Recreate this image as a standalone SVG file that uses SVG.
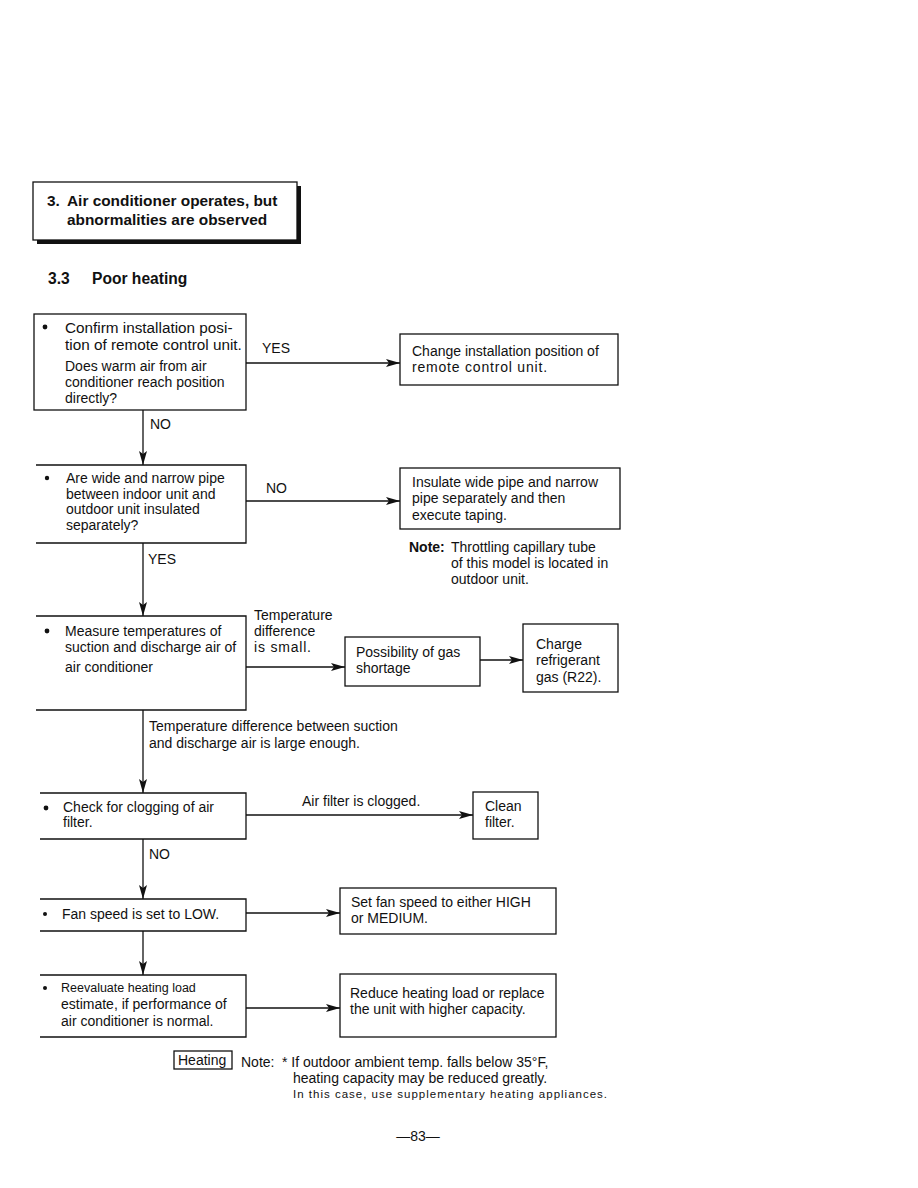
<svg xmlns="http://www.w3.org/2000/svg" width="918" height="1188" viewBox="0 0 918 1188">
<style>
text{font-family:"Liberation Sans",Arial,sans-serif;fill:#111;font-size:14px}
.b{font-weight:bold}
.h{font-size:15.4px;font-weight:bold}
.t{font-size:15.6px;font-weight:bold}
.l{font-size:15.3px}
.s{font-size:12.5px}
.w{letter-spacing:0.8px}
.box{fill:#fff;stroke:#111;stroke-width:1.3}
.open{fill:none;stroke:#111;stroke-width:1.3}
.ln{fill:none;stroke:#111;stroke-width:1.3}
.sm{font-size:11.5px;letter-spacing:1px}
</style>
<defs>
<marker id="ah" viewBox="0 0 14 8" refX="14" refY="4" markerWidth="14" markerHeight="8" markerUnits="userSpaceOnUse" orient="auto">
<path d="M0,0 L14,4 L0,8 L3,4 Z" fill="#111"/>
</marker>
</defs>
<rect width="918" height="1188" fill="#fff"/>

<g id="header">
<rect x="37" y="186" width="264" height="58" fill="#111"/>
<rect x="33" y="182" width="264" height="58" class="box"/>
<text x="47" y="206" class="h">3.</text>
<text x="67" y="206" class="h">Air conditioner operates, but</text>
<text x="67" y="225" class="h">abnormalities are observed</text>
<text x="48" y="284" class="t">3.3</text>
<text x="92" y="284" class="t">Poor heating</text>
</g>

<g id="connectors">
<path class="ln" d="M246,363 H400" marker-end="url(#ah)"/>
<path class="ln" d="M143,410 V465" marker-end="url(#ah)"/>
<path class="ln" d="M246,501 H400" marker-end="url(#ah)"/>
<path class="ln" d="M143,543 V616" marker-end="url(#ah)"/>
<path class="ln" d="M246,667 H345" marker-end="url(#ah)"/>
<path class="ln" d="M480,660 H523" marker-end="url(#ah)"/>
<path class="ln" d="M143,710 V793" marker-end="url(#ah)"/>
<path class="ln" d="M246,815 H473" marker-end="url(#ah)"/>
<path class="ln" d="M143,839 V899" marker-end="url(#ah)"/>
<path class="ln" d="M246,913 H340" marker-end="url(#ah)"/>
<path class="ln" d="M143,931 V975" marker-end="url(#ah)"/>
<path class="ln" d="M246,1008 H340" marker-end="url(#ah)"/>
<text x="262" y="353">YES</text>
<text x="150" y="429">NO</text>
<text x="266" y="493">NO</text>
<text x="148" y="564">YES</text>
<text x="254" y="620">Temperature</text>
<text x="254" y="636">difference</text>
<text x="254" y="652" class="w">is small.</text>
<text x="149" y="731">Temperature difference between suction</text>
<text x="149" y="748">and discharge air is large enough.</text>
<text x="302" y="806">Air filter is clogged.</text>
<text x="149" y="859">NO</text>
</g>

<g id="n1">
<rect x="34" y="314" width="212" height="96" class="box"/>
<circle cx="45" cy="327" r="2.4" fill="#111"/>
<text x="65" y="333" class="l">Confirm installation posi-</text>
<text x="65" y="350" class="l">tion of remote control unit.</text>
<text x="65" y="371">Does warm air from air</text>
<text x="65" y="387">conditioner reach position</text>
<text x="65" y="403">directly?</text>
</g>
<g id="n2">
<rect x="400" y="334" width="218" height="51" class="box"/>
<text x="412" y="356">Change installation position of</text>
<text x="412" y="372" class="w">remote control unit.</text>
</g>
<g id="n3">
<path class="open" d="M36,465 H246 V543 H36"/>
<circle cx="47" cy="478" r="2.2" fill="#111"/>
<text x="66" y="483">Are wide and narrow pipe</text>
<text x="66" y="499">between indoor unit and</text>
<text x="66" y="514">outdoor unit insulated</text>
<text x="66" y="530">separately?</text>
</g>
<g id="n4">
<rect x="400" y="468" width="220" height="61" class="box"/>
<text x="412" y="487">Insulate wide pipe and narrow</text>
<text x="412" y="503">pipe separately and then</text>
<text x="412" y="520">execute taping.</text>
</g>
<g id="note1">
<text x="409" y="552" class="b">Note:</text>
<text x="451" y="552">Throttling capillary tube</text>
<text x="451" y="568">of this model is located in</text>
<text x="451" y="584">outdoor unit.</text>
</g>
<g id="n5">
<path class="open" d="M36,616 H246 V710 H36"/>
<circle cx="47" cy="631" r="2.4" fill="#111"/>
<text x="65" y="636">Measure temperatures of</text>
<text x="65" y="652">suction and discharge air of</text>
<text x="65" y="672">air conditioner</text>
</g>
<g id="n6">
<rect x="345" y="637" width="135" height="49" class="box"/>
<text x="356" y="657">Possibility of gas</text>
<text x="356" y="673">shortage</text>
</g>
<g id="n7">
<rect x="523" y="624" width="95" height="68" class="box"/>
<text x="536" y="649">Charge</text>
<text x="536" y="665">refrigerant</text>
<text x="536" y="682">gas (R22).</text>
</g>
<g id="n8">
<path class="open" d="M40,793 H246 V839 H40"/>
<circle cx="46" cy="808" r="2.4" fill="#111"/>
<text x="63" y="812">Check for clogging of air</text>
<text x="63" y="827">filter.</text>
</g>
<g id="n9">
<rect x="473" y="792" width="65" height="47" class="box"/>
<text x="485" y="811">Clean</text>
<text x="485" y="827">filter.</text>
</g>
<g id="n10">
<path class="open" d="M40,899 H246 V931 H40"/>
<circle cx="45" cy="914" r="2" fill="#111"/>
<text x="62" y="919">Fan speed is set to LOW.</text>
</g>
<g id="n11">
<rect x="340" y="888" width="216" height="46" class="box"/>
<text x="351" y="907">Set fan speed to either HIGH</text>
<text x="351" y="923">or MEDIUM.</text>
</g>
<g id="n12">
<path class="open" d="M40,975 H246 V1037 H40"/>
<circle cx="45" cy="988" r="2" fill="#111"/>
<text x="61" y="992" class="s">Reevaluate heating load</text>
<text x="61" y="1009">estimate, if performance of</text>
<text x="61" y="1026">air conditioner is normal.</text>
</g>
<g id="n13">
<rect x="340" y="974" width="216" height="63" class="box"/>
<text x="350" y="998">Reduce heating load or replace</text>
<text x="350" y="1014">the unit with higher capacity.</text>
</g>
<g id="note2">
<rect x="174" y="1051" width="58" height="18" class="box"/>
<text x="178" y="1065">Heating</text>
<text x="241" y="1067">Note:</text>
<text x="282" y="1067">* If outdoor ambient temp. falls below 35°F,</text>
<text x="293" y="1083">heating capacity may be reduced greatly.</text>
<text x="293" y="1098" class="sm">In this case, use supplementary heating appliances.</text>
</g>
<text x="418" y="1141" text-anchor="middle">—83—</text>
</svg>
